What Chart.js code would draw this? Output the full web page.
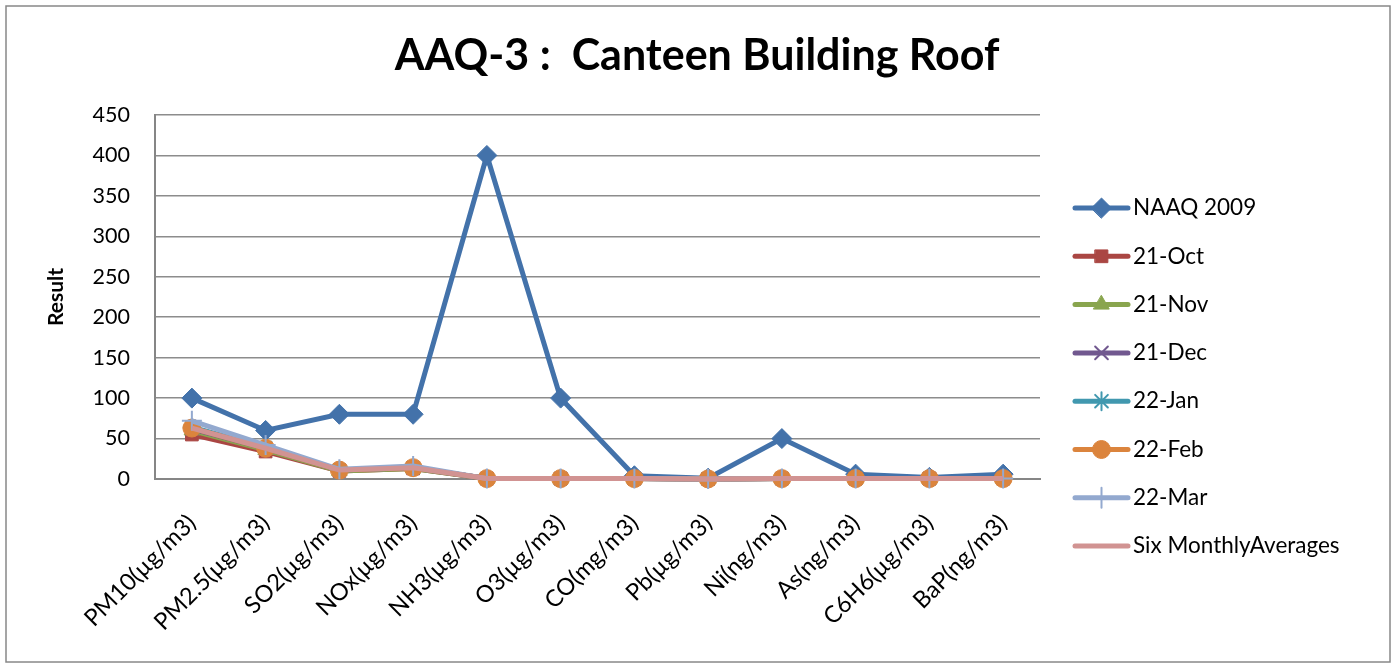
<!DOCTYPE html>
<html>
<head>
<meta charset="utf-8">
<script src="https://cdn.jsdelivr.net/npm/chart.js@4"></script>
<style>
  html, body { margin: 0; padding: 0; background: #fff; }
  #wrap { width: 1397px; height: 669px; }
</style>
</head>
<body>
<div id="wrap"><canvas id="aaqChart" width="1397" height="669"></canvas></div>
<script>
// Data
const categories = ['PM10(µg/m3)', 'PM2.5(µg/m3)', 'SO2(µg/m3)', 'NOx(µg/m3)', 'NH3(µg/m3)', 'O3(µg/m3)',
    'CO(mg/m3)', 'Pb(µg/m3)', 'Ni(ng/m3)', 'As(ng/m3)', 'C6H6(µg/m3)', 'BaP(ng/m3)'];
const seriesNames = ['NAAQ 2009', '21-Oct', '21-Nov', '21-Dec', '22-Jan', '22-Feb', '22-Mar', 'Six MonthlyAverages'];
const naaq2009 = [100, 60, 80, 80, 400, 100, 4, 1, 50, 6, 2, 6];
const oct21 = [55, 34, 10, 13, 0.5, 0.5, 0.5, 0.1, 0.5, 0.5, 0.5, 0.5];
const nov21 = [60, 36, 10, 13, 0.5, 0.5, 0.5, 0.1, 0.5, 0.5, 0.5, 0.5];
const dec21 = [62, 38, 11, 14, 0.5, 0.5, 0.5, 0.1, 0.5, 0.5, 0.5, 0.5];
const jan22 = [64, 39, 11, 14, 0.5, 0.5, 0.5, 0.1, 0.5, 0.5, 0.5, 0.5];
const feb22 = [63, 38, 11, 14, 0.5, 0.5, 0.5, 0.1, 0.5, 0.5, 0.5, 0.5];
const mar22 = [72, 42, 12, 16, 0.5, 0.5, 0.5, 0.1, 0.5, 0.5, 0.5, 0.5];
const sixMonthAvg = [63, 38, 11, 14, 0.5, 0.5, 0.5, 0.1, 0.5, 0.5, 0.5, 0.5];
const yTicks = { min: 0, max: 450, step: 50 };

const FONT = 'Lato, "Open Sans", sans-serif';
const TITLE = 'AAQ-3 :  Canteen Building Roof';

function makeSet(label, data, color, style, radius, index) {
    return {
        label: label,
        data: data,
        borderColor: color,
        backgroundColor: color,
        pointBackgroundColor: color,
        pointBorderColor: color,
        pointStyle: style,
        pointRadius: radius,
        pointBorderWidth: style === 'cross' || style === 'crossRot' || style === 'star' ? 2 : 1,
        borderWidth: 5,
        tension: 0,
        clip: false,
        order: 7 - index
    };
}

const datasets = [
    makeSet(seriesNames[0], naaq2009, '#4372AA', 'rectRot', 10, 0),
    makeSet(seriesNames[1], oct21, '#AA4643', 'rect', 9, 1),
    makeSet(seriesNames[2], nov21, '#89A54E', 'triangle', 9, 2),
    makeSet(seriesNames[3], dec21, '#71588F', 'crossRot', 9, 3),
    makeSet(seriesNames[4], jan22, '#4198AF', 'star', 9, 4),
    makeSet(seriesNames[5], feb22, '#DB843D', 'circle', 9, 5),
    makeSet(seriesNames[6], mar22, '#93A9CF', 'cross', 10, 6),
    makeSet(seriesNames[7], sixMonthAvg, '#D19392', false, 0, 7)
];

// Excel-style title, legend (line + marker) and outer frame
const excelDecor = {
    id: 'excelDecor',
    afterDraw(chart) {
        const ctx = chart.ctx;
        ctx.save();
        ctx.strokeStyle = '#888';
        ctx.lineWidth = 1.5;
        ctx.strokeRect(6, 6, 1384, 656);

        ctx.fillStyle = '#000';
        ctx.font = 'bold 43px ' + FONT;
        ctx.textAlign = 'center';
        ctx.textBaseline = 'middle';
        ctx.fillText(TITLE, 697, 56);

        const x0 = 1075, x1 = 1128, yStart = 208, gap = 48.3;
        chart.data.datasets.forEach((ds, i) => {
            const y = yStart + i * gap;
            ctx.strokeStyle = ds.borderColor;
            ctx.lineWidth = ds.borderWidth;
            ctx.lineCap = 'round';
            ctx.beginPath();
            ctx.moveTo(x0, y);
            ctx.lineTo(x1, y);
            ctx.stroke();
            if (ds.pointStyle) {
                ctx.fillStyle = ds.pointBackgroundColor;
                ctx.strokeStyle = ds.pointBorderColor;
                ctx.lineWidth = ds.pointBorderWidth;
                Chart.helpers.drawPoint(ctx, {
                    pointStyle: ds.pointStyle,
                    radius: ds.pointRadius,
                    rotation: 0,
                    borderWidth: ds.pointBorderWidth
                }, (x0 + x1) / 2, y);
            }
            ctx.fillStyle = '#000';
            ctx.font = '22.5px ' + FONT;
            ctx.textBaseline = 'middle';
            ctx.textAlign = 'left';
            ctx.fillText(ds.label, x1 + 5, y);
        });
        ctx.restore();
    }
};

const ctx = document.getElementById('aaqChart').getContext('2d');
new Chart(ctx, {
    type: 'line',
    data: { labels: categories, datasets: datasets },
    options: {
        responsive: false,
        animation: false,
        layout: { padding: { left: 0, right: 357, top: 115, bottom: 0 } },
        plugins: {
            legend: { display: false },
            tooltip: { enabled: false },
            title: { display: false }
        },
        scales: {
            x: {
                offset: true,
                grid: { display: false, drawTicks: false },
                border: { color: '#868686', width: 2 },
                afterFit(scale) { scale.height = 190; },
                ticks: {
                    color: '#000',
                    font: { family: FONT, size: 23.5 },
                    maxRotation: 45,
                    minRotation: 45,
                    autoSkip: false,
                    padding: 30
                }
            },
            y: {
                min: yTicks.min,
                max: yTicks.max,
                afterFit(scale) { scale.width = 155; },
                grid: { color: '#8c8c8c', lineWidth: 1.5, drawTicks: false },
                border: { color: '#868686', width: 2 },
                ticks: {
                    stepSize: yTicks.step,
                    color: '#000',
                    font: { family: FONT, size: 21.5 },
                    padding: 25
                },
                title: {
                    display: true,
                    text: 'Result',
                    color: '#000',
                    font: { family: FONT, size: 21, weight: 'bold' },
                    padding: { top: 44, bottom: 0 }
                }
            }
        }
    },
    plugins: [excelDecor]
});
</script>
</body>
</html>
